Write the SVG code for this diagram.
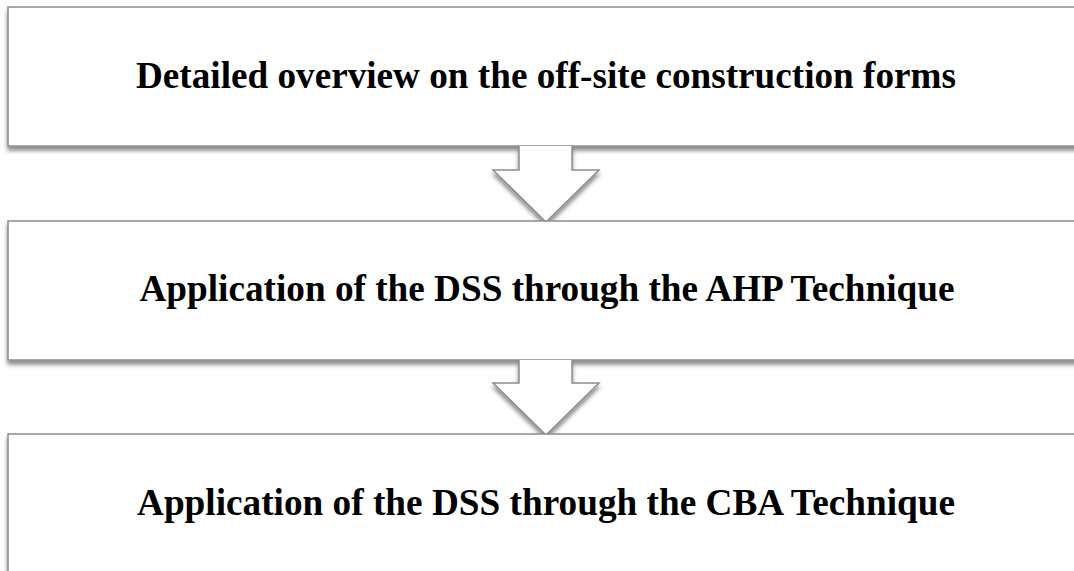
<svg xmlns="http://www.w3.org/2000/svg" width="1074" height="571" viewBox="0 0 1074 571">
  <defs>
    <filter id="shadow" x="-5%" y="-20%" width="110%" height="150%">
      <feDropShadow dx="0" dy="4" stdDeviation="2" flood-color="#000" flood-opacity="0.45"/>
    </filter>
    <style>
      .box { fill: #ffffff; stroke: #8c8c8c; stroke-width: 1.5; filter: url(#shadow); }
      .arrow { fill: #ffffff; stroke: #8c8c8c; stroke-width: 1.5; stroke-linejoin: miter; filter: url(#shadow); }
      .label { font-family: "Liberation Serif", "Times New Roman", serif; font-weight: bold; font-size: 37px; fill: #000; text-anchor: middle; }
    </style>
  </defs>
  <rect width="1074" height="571" fill="#ffffff"/>

  <g id="step1">
    <rect class="box" x="8" y="7" width="1080" height="139"/>
    <text class="label" x="546" y="88" textLength="820" lengthAdjust="spacingAndGlyphs">Detailed overview on the off-site construction forms</text>
  </g>

  <g id="connectors">
    <path class="arrow" d="M519,146 V170 H493 L546,222 L599,170 H572 V146"/>
  </g>

  <g id="step2">
    <rect class="box" x="8" y="221" width="1080" height="139"/>
    <text class="label" x="547" y="301" textLength="815" lengthAdjust="spacingAndGlyphs">Application of the DSS through the AHP Technique</text>
  </g>

  <g id="connectors2">
    <path class="arrow" d="M519,360 V383 H493 L546,435 L599,383 H572 V360"/>
  </g>

  <g id="step3">
    <rect class="box" x="8" y="434" width="1080" height="160"/>
    <text class="label" x="546" y="515" textLength="818" lengthAdjust="spacingAndGlyphs">Application of the DSS through the CBA Technique</text>
  </g>
</svg>
